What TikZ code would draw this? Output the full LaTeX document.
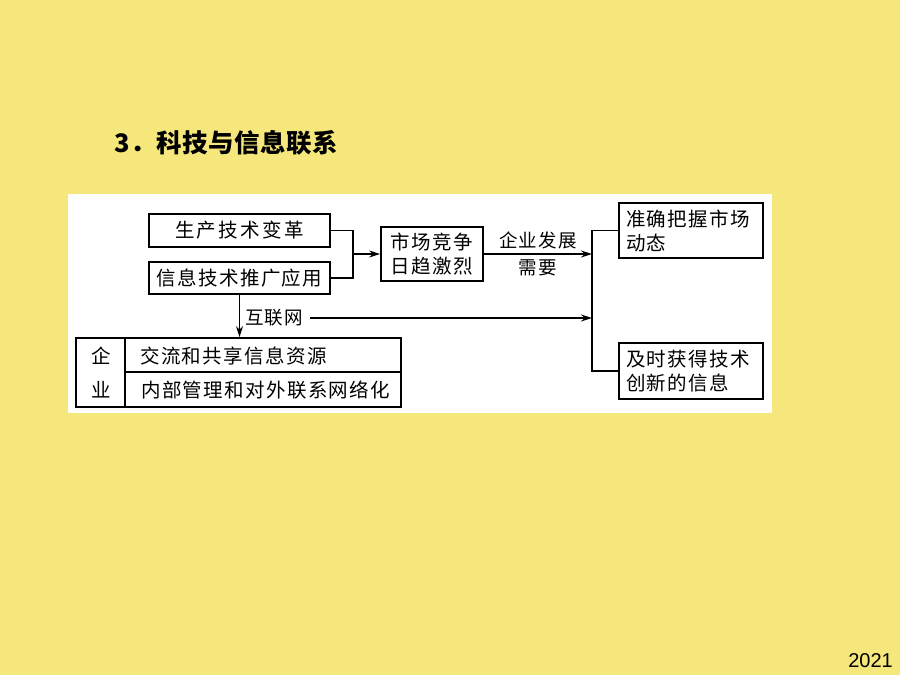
\documentclass[tikz,border=0pt]{standalone}
\usepackage{fontspec}
\setmainfont{Noto Sans CJK SC}
\newfontfamily\latinsans{Liberation Sans}
\usetikzlibrary{arrows.meta}
\definecolor{bg}{HTML}{F5E77B}
\newcommand\boxfont{\fontsize{19.5}{24}\selectfont\addfontfeature{LetterSpace=7}}
\newcommand\labfont{\fontsize{18.5}{22}\selectfont\addfontfeature{LetterSpace=6}}
\begin{document}
\begin{tikzpicture}[x=1pt,y=-1pt,
  box/.style={draw, line width=1.8pt, inner sep=0pt, font=\boxfont, align=center},
  lbox/.style={draw, line width=1.8pt, inner xsep=7pt, inner ysep=0pt, font=\boxfont, align=left, text width=130pt, minimum height=55pt},
  conn/.style={line width=1.3pt},
  arr/.style={line width=1.3pt, -{Stealth[length=11pt,width=7pt]}},
  lab/.style={font=\labfont, inner sep=1pt},
  txt/.style={font=\boxfont, inner sep=0pt}]
% background and panel
\fill[bg] (0,0) rectangle (900,675);
\useasboundingbox (0,0) rectangle (900,675);
\fill[white] (68,194) rectangle (772,413);
% title
\node[anchor=west, inner sep=0pt, font=\fontsize{25.5}{28}\selectfont\bfseries\addfontfeature{LetterSpace=2}] (title) at (114,143) {3．科技与信息联系};
\node[anchor=east, inner sep=0pt, font=\latinsans\fontsize{20}{24}\selectfont] (year) at (893,661) {2021};
% boxes
\node[box, minimum width=181pt, minimum height=33pt, font=\fontsize{19.5}{24}\selectfont\addfontfeature{LetterSpace=12}] (b1) at (239.5,230.5) {生产技术变革};
\node[box, minimum width=181pt, minimum height=32pt] (b2) at (239.5,278) {信息技术推广应用};
\node[box, minimum width=102pt, minimum height=54pt] (b3) at (432,254) {市场竞争\\日趋激烈};
\node[lbox] (b4) at (691,230.5) {准确把握市场\\动态};
\node[lbox, minimum height=56pt] (b5) at (691,371) {及时获得技术\\创新的信息};
% enterprise box
\node[draw, line width=1.8pt, minimum width=325pt, minimum height=69pt, inner sep=0pt] (ent) at (238.5,372.5) {};
\coordinate (dv1) at (125,338);
\coordinate (dv2) at (125,407);
\coordinate (dh1) at (125,372);
\coordinate (dh2) at (401,372);
\draw[line width=1.8pt] (dv1) -- (dv2);
\draw[line width=1.8pt] (dh1) -- (dh2);
\node[txt] (e1) at (101,356) {企};
\node[txt] (e2) at (101,390) {业};
\node[txt, anchor=west] (e3) at (140,356) {交流和共享信息资源};
\node[txt, anchor=west] (e4) at (141,390) {内部管理和对外联系网络化};
% left joint
\coordinate (j1) at (353,254);
\draw[conn] (b1.east) -| (j1) |- (b2.east);
\draw[arr] (j1) -- (b3.west);
% right joint
\coordinate (r1) at (592,254);
\coordinate (rt) at (592,230.5);
\coordinate (rb) at (592,371);
\coordinate (rm) at (592,318);
\draw[arr] (b3.east) -- node[lab, above=3pt] (l1) {企业发展} node[lab, below=4pt] (l2) {需要} (r1);
\draw[conn] (b4.west) -- (rt) -- (rb) -- (b5.west);
% internet
\draw[arr] (b2.south) -- (b2.south |- ent.north);
\node[lab, anchor=west] (net) at (244,318) {互联网};
\draw[arr, shorten <=6pt] (net.east) -- (rm);
\end{tikzpicture}
\end{document}
